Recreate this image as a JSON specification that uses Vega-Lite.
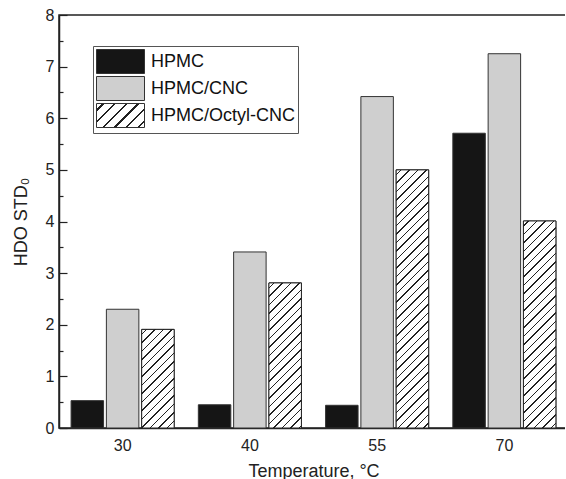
{
  "$schema": "https://vega.github.io/schema/vega-lite/v6.json",
  "width": 509,
  "height": 413,
  "autosize": "none",
  "padding": {"left": 59, "top": 15, "right": -3, "bottom": 51},
  "background": "white",
  "params": [
    {"name": "hatchStops", "value": [
      {"offset": 0, "color": "#fff"},
      {"offset": 0.0139, "color": "#fff"}, {"offset": 0.0139, "color": "#222"}, {"offset": 0.0191, "color": "#222"}, {"offset": 0.0191, "color": "#fff"},
      {"offset": 0.0417, "color": "#fff"}, {"offset": 0.0417, "color": "#222"}, {"offset": 0.0469, "color": "#222"}, {"offset": 0.0469, "color": "#fff"},
      {"offset": 0.0694, "color": "#fff"}, {"offset": 0.0694, "color": "#222"}, {"offset": 0.0746, "color": "#222"}, {"offset": 0.0746, "color": "#fff"},
      {"offset": 0.0972, "color": "#fff"}, {"offset": 0.0972, "color": "#222"}, {"offset": 0.1024, "color": "#222"}, {"offset": 0.1024, "color": "#fff"},
      {"offset": 0.125, "color": "#fff"}, {"offset": 0.125, "color": "#222"}, {"offset": 0.1302, "color": "#222"}, {"offset": 0.1302, "color": "#fff"},
      {"offset": 0.1528, "color": "#fff"}, {"offset": 0.1528, "color": "#222"}, {"offset": 0.158, "color": "#222"}, {"offset": 0.158, "color": "#fff"},
      {"offset": 0.1806, "color": "#fff"}, {"offset": 0.1806, "color": "#222"}, {"offset": 0.1858, "color": "#222"}, {"offset": 0.1858, "color": "#fff"},
      {"offset": 0.2083, "color": "#fff"}, {"offset": 0.2083, "color": "#222"}, {"offset": 0.2135, "color": "#222"}, {"offset": 0.2135, "color": "#fff"},
      {"offset": 0.2361, "color": "#fff"}, {"offset": 0.2361, "color": "#222"}, {"offset": 0.2413, "color": "#222"}, {"offset": 0.2413, "color": "#fff"},
      {"offset": 0.2639, "color": "#fff"}, {"offset": 0.2639, "color": "#222"}, {"offset": 0.2691, "color": "#222"}, {"offset": 0.2691, "color": "#fff"},
      {"offset": 0.2917, "color": "#fff"}, {"offset": 0.2917, "color": "#222"}, {"offset": 0.2969, "color": "#222"}, {"offset": 0.2969, "color": "#fff"},
      {"offset": 0.3194, "color": "#fff"}, {"offset": 0.3194, "color": "#222"}, {"offset": 0.3246, "color": "#222"}, {"offset": 0.3246, "color": "#fff"},
      {"offset": 0.3472, "color": "#fff"}, {"offset": 0.3472, "color": "#222"}, {"offset": 0.3524, "color": "#222"}, {"offset": 0.3524, "color": "#fff"},
      {"offset": 0.375, "color": "#fff"}, {"offset": 0.375, "color": "#222"}, {"offset": 0.3802, "color": "#222"}, {"offset": 0.3802, "color": "#fff"},
      {"offset": 0.4028, "color": "#fff"}, {"offset": 0.4028, "color": "#222"}, {"offset": 0.408, "color": "#222"}, {"offset": 0.408, "color": "#fff"},
      {"offset": 0.4306, "color": "#fff"}, {"offset": 0.4306, "color": "#222"}, {"offset": 0.4358, "color": "#222"}, {"offset": 0.4358, "color": "#fff"},
      {"offset": 0.4583, "color": "#fff"}, {"offset": 0.4583, "color": "#222"}, {"offset": 0.4635, "color": "#222"}, {"offset": 0.4635, "color": "#fff"},
      {"offset": 0.4861, "color": "#fff"}, {"offset": 0.4861, "color": "#222"}, {"offset": 0.4913, "color": "#222"}, {"offset": 0.4913, "color": "#fff"},
      {"offset": 0.5139, "color": "#fff"}, {"offset": 0.5139, "color": "#222"}, {"offset": 0.5191, "color": "#222"}, {"offset": 0.5191, "color": "#fff"},
      {"offset": 0.5417, "color": "#fff"}, {"offset": 0.5417, "color": "#222"}, {"offset": 0.5469, "color": "#222"}, {"offset": 0.5469, "color": "#fff"},
      {"offset": 0.5694, "color": "#fff"}, {"offset": 0.5694, "color": "#222"}, {"offset": 0.5746, "color": "#222"}, {"offset": 0.5746, "color": "#fff"},
      {"offset": 0.5972, "color": "#fff"}, {"offset": 0.5972, "color": "#222"}, {"offset": 0.6024, "color": "#222"}, {"offset": 0.6024, "color": "#fff"},
      {"offset": 0.625, "color": "#fff"}, {"offset": 0.625, "color": "#222"}, {"offset": 0.6302, "color": "#222"}, {"offset": 0.6302, "color": "#fff"},
      {"offset": 0.6528, "color": "#fff"}, {"offset": 0.6528, "color": "#222"}, {"offset": 0.658, "color": "#222"}, {"offset": 0.658, "color": "#fff"},
      {"offset": 0.6806, "color": "#fff"}, {"offset": 0.6806, "color": "#222"}, {"offset": 0.6858, "color": "#222"}, {"offset": 0.6858, "color": "#fff"},
      {"offset": 0.7083, "color": "#fff"}, {"offset": 0.7083, "color": "#222"}, {"offset": 0.7135, "color": "#222"}, {"offset": 0.7135, "color": "#fff"},
      {"offset": 0.7361, "color": "#fff"}, {"offset": 0.7361, "color": "#222"}, {"offset": 0.7413, "color": "#222"}, {"offset": 0.7413, "color": "#fff"},
      {"offset": 0.7639, "color": "#fff"}, {"offset": 0.7639, "color": "#222"}, {"offset": 0.7691, "color": "#222"}, {"offset": 0.7691, "color": "#fff"},
      {"offset": 0.7917, "color": "#fff"}, {"offset": 0.7917, "color": "#222"}, {"offset": 0.7969, "color": "#222"}, {"offset": 0.7969, "color": "#fff"},
      {"offset": 0.8194, "color": "#fff"}, {"offset": 0.8194, "color": "#222"}, {"offset": 0.8246, "color": "#222"}, {"offset": 0.8246, "color": "#fff"},
      {"offset": 0.8472, "color": "#fff"}, {"offset": 0.8472, "color": "#222"}, {"offset": 0.8524, "color": "#222"}, {"offset": 0.8524, "color": "#fff"},
      {"offset": 0.875, "color": "#fff"}, {"offset": 0.875, "color": "#222"}, {"offset": 0.8802, "color": "#222"}, {"offset": 0.8802, "color": "#fff"},
      {"offset": 0.9028, "color": "#fff"}, {"offset": 0.9028, "color": "#222"}, {"offset": 0.908, "color": "#222"}, {"offset": 0.908, "color": "#fff"},
      {"offset": 0.9306, "color": "#fff"}, {"offset": 0.9306, "color": "#222"}, {"offset": 0.9358, "color": "#222"}, {"offset": 0.9358, "color": "#fff"},
      {"offset": 0.9583, "color": "#fff"}, {"offset": 0.9583, "color": "#222"}, {"offset": 0.9635, "color": "#222"}, {"offset": 0.9635, "color": "#fff"},
      {"offset": 0.9861, "color": "#fff"}, {"offset": 0.9861, "color": "#222"}, {"offset": 0.9913, "color": "#222"}, {"offset": 0.9913, "color": "#fff"},
      {"offset": 1, "color": "#fff"}
    ]}
  ],
  "data": {"values": [
    {"Temperature": "30", "series": "HPMC", "HDO": 0.53},
    {"Temperature": "30", "series": "HPMC/CNC", "HDO": 2.30},
    {"Temperature": "30", "series": "HPMC/Octyl-CNC", "HDO": 1.91},
    {"Temperature": "40", "series": "HPMC", "HDO": 0.45},
    {"Temperature": "40", "series": "HPMC/CNC", "HDO": 3.41},
    {"Temperature": "40", "series": "HPMC/Octyl-CNC", "HDO": 2.81},
    {"Temperature": "55", "series": "HPMC", "HDO": 0.44},
    {"Temperature": "55", "series": "HPMC/CNC", "HDO": 6.42},
    {"Temperature": "55", "series": "HPMC/Octyl-CNC", "HDO": 5.00},
    {"Temperature": "70", "series": "HPMC", "HDO": 5.71},
    {"Temperature": "70", "series": "HPMC/CNC", "HDO": 7.25},
    {"Temperature": "70", "series": "HPMC/Octyl-CNC", "HDO": 4.01}
  ]},
  "config": {
    "font": "Liberation Sans",
    "view": {"stroke": "#222", "strokeWidth": 1.5},
    "axis": {
      "labelFont": "Liberation Sans",
      "titleFont": "Liberation Sans",
      "labelColor": "#222",
      "titleColor": "#222",
      "labelFontSize": 16,
      "titleFontSize": 18,
      "titleFontWeight": "normal",
      "domainColor": "#222",
      "domainWidth": 1.5,
      "tickColor": "#222",
      "tickWidth": 1.2,
      "grid": false
    }
  },
  "encoding": {
    "x": {
      "field": "Temperature",
      "type": "nominal",
      "scale": {"paddingInner": 0.19, "paddingOuter": 0.095},
      "axis": {"title": "Temperature, °C", "labelAngle": 0, "tickSize": -8, "labelPadding": 17, "titlePadding": 9}
    },
    "xOffset": {"field": "series", "type": "nominal", "scale": {"paddingInner": 0.08, "paddingOuter": 0}},
    "y": {
      "field": "HDO",
      "type": "quantitative",
      "stack": null,
      "scale": {"domain": [0, 8], "nice": false},
      "axis": {
        "title": "HDO STD₀",
        "values": [0, 0.5, 1, 1.5, 2, 2.5, 3, 3.5, 4, 4.5, 5, 5.5, 6, 6.5, 7, 7.5, 8],
        "labelExpr": "datum.value % 1 === 0 ? '' + datum.value : ''",
        "tickSize": {"expr": "datum.value % 1 === 0 ? -8 : -4"},
        "labelPadding": 13,
        "titlePadding": 15
      }
    }
  },
  "layer": [
    {
      "mark": {"type": "bar", "stroke": "#333", "strokeWidth": 1},
      "encoding": {
        "fill": {
          "field": "series",
          "type": "nominal",
          "scale": {"range": ["#151515", "#cfcfcf", {"expr": "{gradient: 'linear', x1: 0, y1: 0, x2: 7.016, y2: 3.508, stops: hatchStops}"}]},
          "legend": {
            "title": null,
            "orient": "none",
            "legendX": 34,
            "legendY": 31,
            "strokeColor": "#555",
            "padding": 3,
            "symbolType": "M-2,-1H2V1H-2Z",
            "symbolSize": 576,
            "symbolOffset": 12,
            "symbolStrokeColor": "#333",
            "symbolStrokeWidth": 1,
            "symbolOpacity": 1,
            "labelOffset": 18,
            "labelFontSize": 18,
            "labelFont": "Liberation Sans",
            "labelColor": "#111",
            "labelLimit": 400,
            "rowPadding": -3.2
          }
        }
      }
    },
    {
      "transform": [{"filter": "datum.series === 'HPMC/Octyl-CNC'"}],
      "mark": {"type": "bar", "stroke": "#222", "strokeWidth": 1},
      "encoding": {
        "fill": {"value": {"expr": "{gradient: 'linear', x1: 0, y1: 0, x2: bandwidth('xOffset') * 306 / (pow(bandwidth('xOffset'), 2) + pow(scale('y', 0) - scale('y', datum.HDO), 2)), y2: (scale('y', 0) - scale('y', datum.HDO)) * 306 / (pow(bandwidth('xOffset'), 2) + pow(scale('y', 0) - scale('y', datum.HDO), 2)), stops: hatchStops}"}}
      }
    }
  ]
}
